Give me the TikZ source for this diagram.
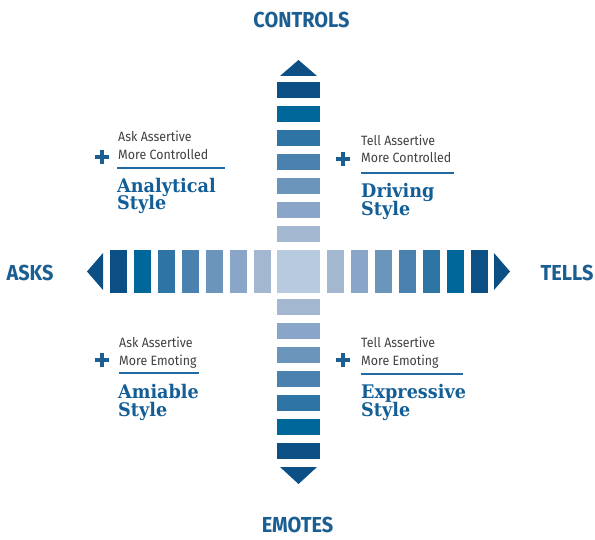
\documentclass[tikz,border=0pt]{standalone}
\usepackage{fontspec}
\setmainfont{Fira Sans}[FakeStretch=0.92]
\newfontfamily\headfont{Fira Sans}[FakeStretch=0.92]
\newfontfamily\slabfont{DejaVu Serif}[FakeStretch=0.94]

% bar shades, outer to inner
\definecolor{barA}{HTML}{0B4F84}
\definecolor{barB}{HTML}{00679A}
\definecolor{barC}{HTML}{2E74A4}
\definecolor{barD}{HTML}{4B81AF}
\definecolor{barE}{HTML}{6C95BB}
\definecolor{barF}{HTML}{89A6C8}
\definecolor{barG}{HTML}{A4B7D0}
\definecolor{barH}{HTML}{B8CAE0}
\definecolor{headblue}{HTML}{1A5E92}
\definecolor{styleblue}{HTML}{135E96}
\definecolor{ruleblue}{HTML}{1F6AA5}
\definecolor{notegray}{HTML}{404040}

\begin{document}
\begin{tikzpicture}[x=0.03cm, y=-0.03cm,
  axislabel/.style={anchor=base, inner sep=0, text=headblue,
    font=\headfont\bfseries\fontsize{18.5}{20}\selectfont},
  note/.style={anchor=base west, inner sep=0, text=notegray,
    font=\fontsize{11.5}{12}\selectfont},
  stylename/.style={anchor=base west, inner sep=0, text=styleblue,
    font=\slabfont\bfseries\fontsize{16}{17}\selectfont},
  underline/.style={draw=ruleblue, line width=1.3pt},
  plussign/.style={draw=headblue, line width=3.2pt}]
\useasboundingbox (0,0) rectangle (595,540);

% Bars of the cross
\foreach \c [count=\i from 0] in {barA,barB,barC,barD,barE,barF,barG} {
  \fill[\c] (277, {82+24*\i}) rectangle +(43,16);  % top
  \fill[\c] (277, {443-24*\i}) rectangle +(43,16); % bottom
  \fill[\c] ({110+24*\i}, 250) rectangle +(17,43); % left
  \fill[\c] ({471-24*\i}, 250) rectangle +(17,43); % right
}
\fill[barH] (277,250) rectangle +(43,43);

% Arrow heads
\fill[barA] (280,76) -- (317,76) -- (298.5,60) -- cycle;
\fill[barA] (280,467) -- (317,467) -- (298.5,484) -- cycle;
\fill[barA] (103,253) -- (103,290) -- (87,271.5) -- cycle;
\fill[barA] (494,253) -- (494,290) -- (510,271.5) -- cycle;

% Axis labels
\node[axislabel] (controls) at (301.5,28) {CONTROLS};
\node[axislabel] (emotes) at (297.5,532) {EMOTES};
\node[axislabel] (asks) at (30,280) {ASKS};
\node[axislabel] (tells) at (567,280) {TELLS};

% Analytical
\draw[plussign] (95,157) -- (109,157) (102,150) -- (102,164);
\node[note] (analytical1) at (118,142) {Ask Assertive};
\node[note] (analytical2) at (118,160) {More Controlled};
\draw[underline] (117,168) -- (225,168);
\node[stylename] (analytical3) at (117,192) {Analytical};
\node[stylename] (analytical4) at (117,210) {Style};

% Driving
\draw[plussign] (336,159) -- (350,159) (343,152) -- (343,166);
\node[note] (driving1) at (361,146) {Tell Assertive};
\node[note] (driving2) at (361,163) {More Controlled};
\draw[underline] (361,173) -- (454,173);
\node[stylename] (driving3) at (361,197) {Driving};
\node[stylename] (driving4) at (361,215) {Style};

% Amiable
\draw[plussign] (95,360) -- (109,360) (102,353) -- (102,367);
\node[note] (amiable1) at (119,347) {Ask Assertive};
\node[note] (amiable2) at (119,365) {More Emoting};
\draw[underline] (119,373) -- (199,373);
\node[stylename] (amiable3) at (118,398) {Amiable};
\node[stylename] (amiable4) at (118,416) {Style};

% Expressive
\draw[plussign] (336,360) -- (350,360) (343,353) -- (343,367);
\node[note] (expressive1) at (361,347) {Tell Assertive};
\node[note] (expressive2) at (361,365) {More Emoting};
\draw[underline] (361,374) -- (463,374);
\node[stylename] (expressive3) at (361,398) {Expressive};
\node[stylename] (expressive4) at (361,416) {Style};
\end{tikzpicture}
\end{document}
